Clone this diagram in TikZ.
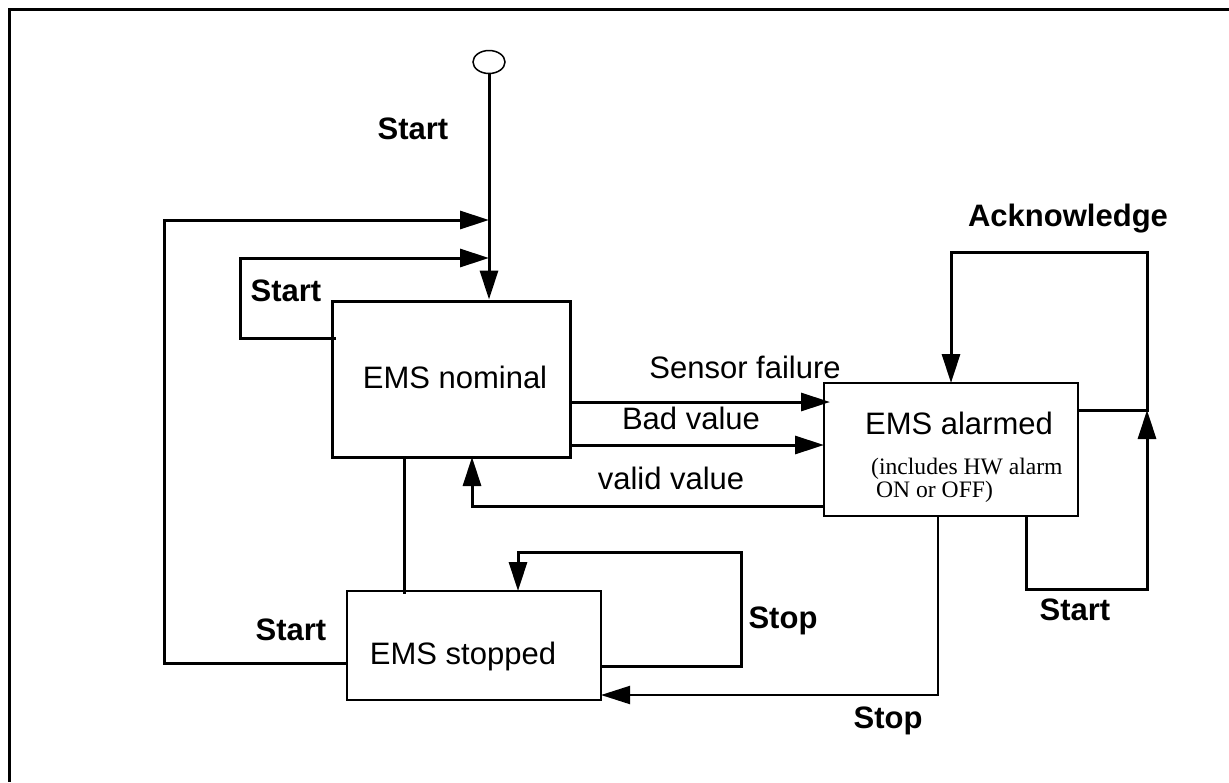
\documentclass[tikz,border=0pt]{standalone}
\usepackage{fontspec}
\setmainfont{Liberation Sans}
\newfontfamily\serifnote{Liberation Serif}
\usetikzlibrary{arrows.meta,shapes.geometric}
\begin{document}
\begin{tikzpicture}[x=1pt,y=-1pt,
  conn/.style={line width=3pt},
  thinconn/.style={line width=2pt},
  arr/.style={conn,-{Triangle[length=29pt,width=18pt]}},
  thinarr/.style={thinconn,-{Triangle[length=29pt,width=18pt]}},
  boxa/.style={draw,line width=1.6pt,inner sep=0pt},
  lab/.style={font=\fontsize{31}{31}\selectfont,anchor=base,inner sep=0pt},
  blab/.style={lab,font=\fontsize{31}{31}\selectfont\bfseries},
  note/.style={font=\serifnote\fontsize{23.6}{23.6}\selectfont,anchor=base west,inner sep=0pt}]
\useasboundingbox (0,0) rectangle (1229,782);
% frame (top and left edges only)
\draw[line width=3pt] (1229,9.5) -- (9.5,9.5) -- (9.5,782);

% states
\node[draw,ellipse,line width=1.5pt,minimum width=32pt,minimum height=23pt,inner sep=0pt] (init) at (489,62) {};
\node[draw,line width=3pt,minimum width=238pt,minimum height=156pt,inner sep=0pt] (nom) at (451,379) {};
\node[boxa,minimum width=254pt,minimum height=133pt] (alm) at (951,449.5) {};
\node[boxa,minimum width=254pt,minimum height=109pt] (stp) at (474,645.5) {};

% texts
\node[blab] (tStartA) at (413,139) {Start};
\node[blab] (tStartB) at (286,301) {Start};
\node[lab] (tNom) at (455,388) {EMS nominal};
\node[lab] (tSens) at (745,378) {Sensor failure};
\node[lab] (tBad) at (691,429) {Bad value};
\node[lab] (tValid) at (671,489) {valid value};
\node[lab] (tAlm) at (959,434) {EMS alarmed};
\node[note] (tIncA) at (871,474) {(includes HW alarm};
\node[note] (tIncB) at (876,497) {ON or OFF)};
\node[blab] (tAck) at (1068,226) {Acknowledge};
\node[blab] (tStartC) at (291,640) {Start};
\node[lab] (tStp) at (463,664) {EMS stopped};
\node[blab] (tStopA) at (783,628) {Stop};
\node[blab] (tStopB) at (888,728) {Stop};
\node[blab] (tStartD) at (1075,620) {Start};

% junction / bend coordinates
\coordinate (jOut) at (489,220);
\coordinate (jIn) at (489,258);
\coordinate (oA) at (347,663);
\coordinate (oB) at (164,663);
\coordinate (oC) at (164,220);
\coordinate (iA) at (336,338);
\coordinate (iB) at (240.5,338);
\coordinate (iC) at (240.5,258);
\coordinate (sfA) at (569,402);
\coordinate (sfB) at (830,402);
\coordinate (bvA) at (569,445);
\coordinate (bvB) at (824,445);
\coordinate (vvA) at (825,506);
\coordinate (vvB) at (472,506);
\coordinate (vvC) at (472,457);
\coordinate (nsA) at (404,457);
\coordinate (nsB) at (404,594);
\coordinate (slA) at (601,666);
\coordinate (slB) at (741,666);
\coordinate (slC) at (741,552);
\coordinate (slD) at (518,552);
\coordinate (slE) at (518,591);
\coordinate (asA) at (938,516);
\coordinate (asB) at (938,695);
\coordinate (asC) at (601,695);
\coordinate (akA) at (1078,410);
\coordinate (akB) at (1147,410);
\coordinate (akC) at (1147,252);
\coordinate (akD) at (951,252);
\coordinate (akE) at (951,383);
\coordinate (stA) at (1026,516);
\coordinate (stB) at (1026,589);
\coordinate (stC) at (1147,589);

% connectors
\draw[arr] (init.south) -- (init.south |- nom.north);
\draw[arr] (oA) -- (oB) -- (oC) -- (jOut);
\draw[arr] (iA) -- (iB) -- (iC) -- (jIn);
\draw[arr] (sfA) -- (sfB);
\draw[arr] (bvA) -- (bvB);
\draw[arr] (vvA) -- (vvB) -- (vvC);
\draw[conn] (nsA) -- (nsB);
\draw[arr] (slA) -- (slB) -- (slC) -- (slD) -- (slE);
\draw[thinarr] (asA) -- (asB) -- (asC);
\draw[arr] (akA) -- (akB) -- (akC) -- (akD) -- (akE);
\draw[arr] (stA) -- (stB) -- (stC) -- (akB);
\end{tikzpicture}
\end{document}
